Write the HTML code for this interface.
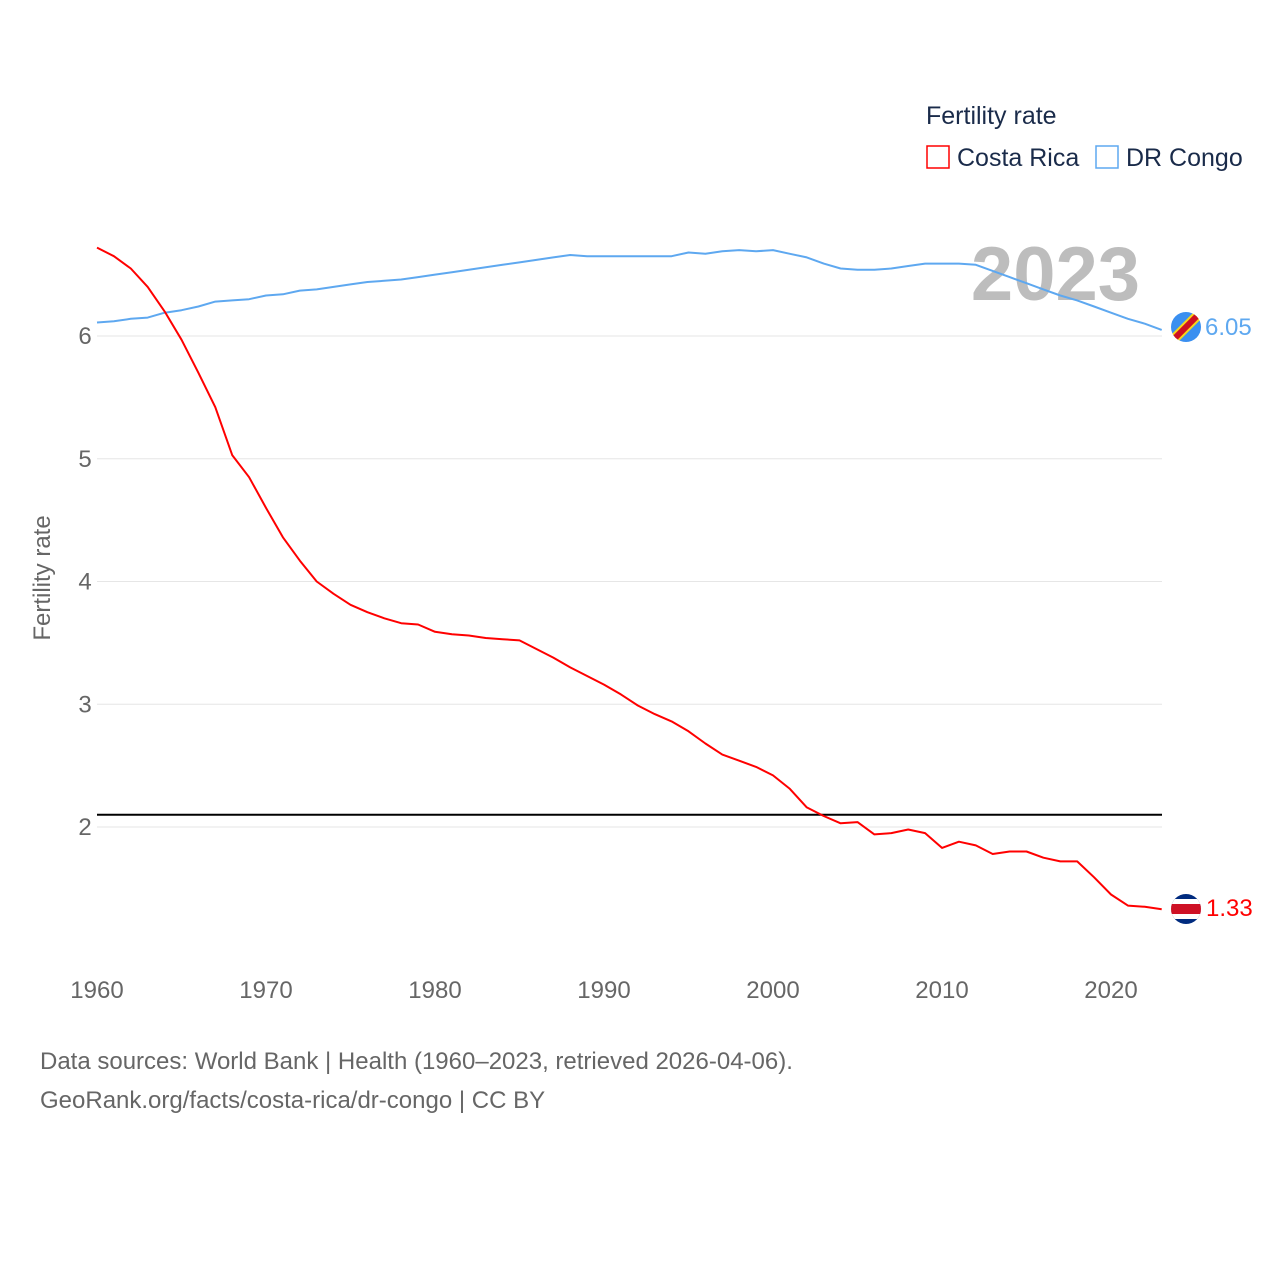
<!DOCTYPE html>
<html><head><meta charset="utf-8">
<style>
html,body{margin:0;padding:0;background:#fff;}
svg{display:block;font-family:"Liberation Sans",sans-serif;}
</style></head>
<body>
<svg id="chart" width="1280" height="1280" viewBox="0 0 1280 1280" xmlns="http://www.w3.org/2000/svg">
<defs>
<clipPath id="cdr"><circle cx="1186" cy="327" r="15"/></clipPath>
<clipPath id="ccr"><circle cx="1186" cy="909" r="15"/></clipPath>
</defs>
<g id="grid"></g>
<g id="xticks"></g>
<g id="yticks"></g>
<text x="50" y="578" transform="rotate(-90 50 578)" text-anchor="middle" font-size="24" fill="#666">Fertility rate</text>
<text x="1140" y="300" text-anchor="end" font-size="76" font-weight="bold" fill="#bdbdbd">2023</text>
<g id="series"></g>
<g>
<text x="926" y="124" font-size="25" fill="#1a2b4a">Fertility rate</text>
<rect x="927" y="146" width="22" height="22" fill="none" stroke="#ff0000" stroke-width="1.5"/>
<text x="957" y="166" font-size="25" fill="#1a2b4a">Costa Rica</text>
<rect x="1096" y="146" width="22" height="22" fill="none" stroke="#5ea8f0" stroke-width="1.5"/>
<text x="1126" y="166" font-size="25" fill="#1a2b4a">DR Congo</text>
</g>
<g clip-path="url(#cdr)">
<rect x="1170" y="311" width="32" height="32" fill="#3a8ff0"/>
<line x1="1168" y1="345" x2="1204" y2="309" stroke="#f7d618" stroke-width="10"/>
<line x1="1168" y1="345" x2="1204" y2="309" stroke="#ce1021" stroke-width="6"/>
</g>
<g clip-path="url(#ccr)">
<rect x="1170" y="893" width="32" height="32" fill="#002b7f"/>
<rect x="1170" y="899" width="32" height="20" fill="#fff"/>
<rect x="1170" y="904" width="32" height="10" fill="#ce1126"/>
</g>
<text x="1205" y="335" font-size="24" fill="#5ea8f0">6.05</text>
<text x="1206" y="916" font-size="24" fill="#ff0000">1.33</text>
<text x="40" y="1069" font-size="24" fill="#666">Data sources: World Bank | Health (1960–2023, retrieved 2026-04-06).</text>
<text x="40" y="1108" font-size="24" fill="#666">GeoRank.org/facts/costa-rica/dr-congo | CC BY</text>
</svg>
<script>
const startYear = 1960;
const costaRica = [6.72,6.65,6.55,6.40,6.20,5.97,5.70,5.42,5.03,4.85,4.60,4.36,4.17,4.00,3.90,3.81,3.75,3.70,3.66,3.65,3.59,3.57,3.56,3.54,3.53,3.52,3.45,3.38,3.30,3.23,3.16,3.08,2.99,2.92,2.86,2.78,2.68,2.59,2.54,2.49,2.42,2.31,2.16,2.09,2.03,2.04,1.94,1.95,1.98,1.95,1.83,1.88,1.85,1.78,1.80,1.80,1.75,1.72,1.72,1.59,1.45,1.36,1.35,1.33];
const drCongo = [6.11,6.12,6.14,6.15,6.19,6.21,6.24,6.28,6.29,6.30,6.33,6.34,6.37,6.38,6.40,6.42,6.44,6.45,6.46,6.48,6.50,6.52,6.54,6.56,6.58,6.60,6.62,6.64,6.66,6.65,6.65,6.65,6.65,6.65,6.65,6.68,6.67,6.69,6.70,6.69,6.70,6.67,6.64,6.59,6.55,6.54,6.54,6.55,6.57,6.59,6.59,6.59,6.58,6.53,6.48,6.43,6.38,6.33,6.29,6.24,6.19,6.14,6.10,6.05];
const xTicks = [1960,1970,1980,1990,2000,2010,2020];
const yTicks = [2,3,4,5,6];
const refLine = [2.1];
const X = yr => 97 + (yr-1960)*(1014/60);
const Y = v => 827 - (v-2)*122.75;
const NS="http://www.w3.org/2000/svg";
function mk(tag,attrs,parent){const e=document.createElementNS(NS,tag);for(const k in attrs)e.setAttribute(k,attrs[k]);parent.appendChild(e);return e;}
const grid=document.getElementById('grid'), yt=document.getElementById('yticks'), xt=document.getElementById('xticks'), ser=document.getElementById('series');
yTicks.forEach(v=>{
  const l=mk('line',{x1:97,x2:1162,y1:Y(v),y2:Y(v),stroke:'#e6e6e6','stroke-width':1},grid);
  
  
  const t=mk('text',{x:85,y:Y(v)+8,'text-anchor':'middle','font-size':24,fill:'#666'},yt);
  t.textContent=v;
  
  
});
xTicks.forEach(yr=>{
  const t=mk('text',{x:X(yr),y:998,'text-anchor':'middle','font-size':24,fill:'#666'},xt);
  t.textContent=yr;
  
  
});
const rl=mk('line',{x1:97,x2:1162,y1:Y(refLine[0]),y2:Y(refLine[0]),stroke:'#000','stroke-width':2},ser);


function line(data,color,name){
  const d=data.map((v,i)=>(i?'L':'M')+X(startYear+i).toFixed(1)+','+Y(v).toFixed(1)).join('');
  const p=mk('path',{d:d,fill:'none',stroke:color,'stroke-width':2,'stroke-linejoin':'round'},ser);
  
  
}
line(drCongo,'#5ea8f0','dr-congo-line');
line(costaRica,'#ff0000','costa-rica-line');
</script>
</body></html>
